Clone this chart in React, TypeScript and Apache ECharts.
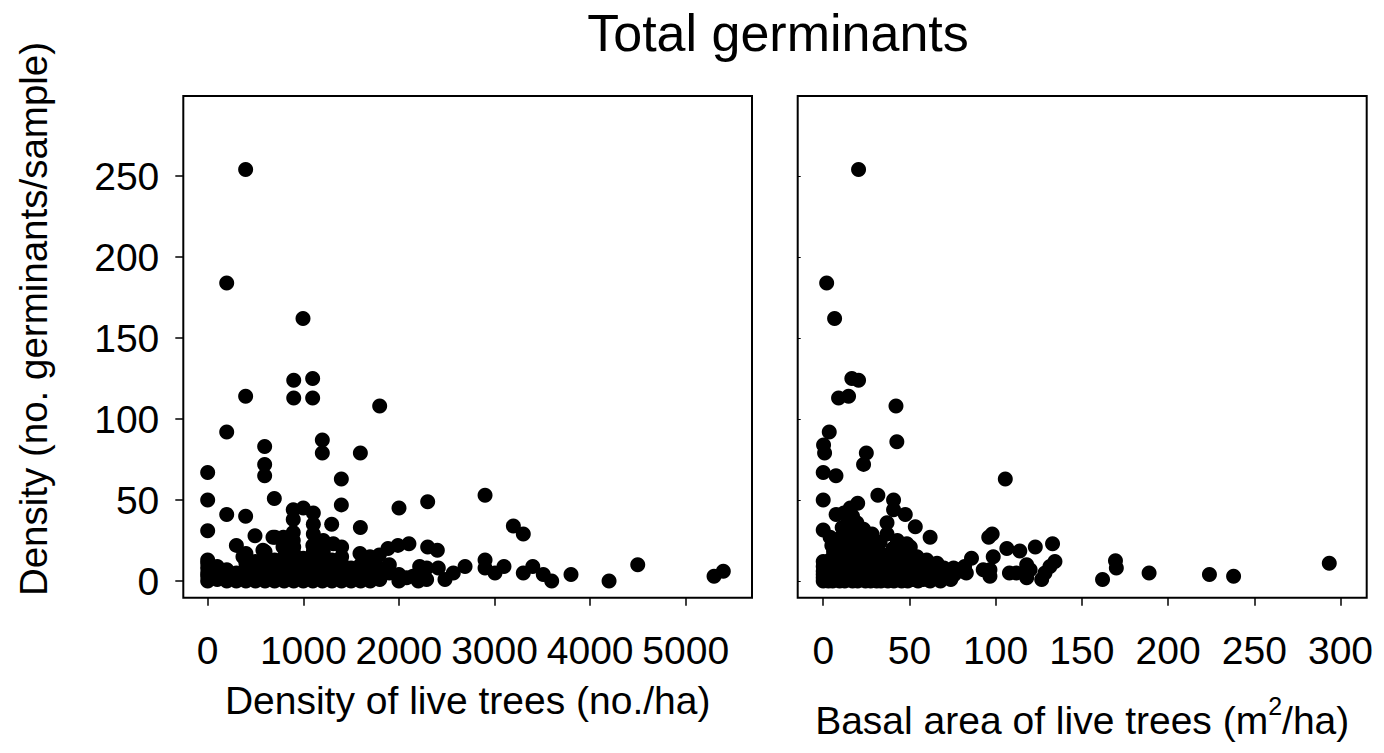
import React, { useEffect, useRef } from "react";
import * as echarts from "echarts";

const titleText = "Total germinants";
const yAxisTitle = "Density (no. germinants/sample)";
const leftXTitle = "Density of live trees (no./ha)";

const yTicks = [0, 50, 100, 150, 200, 250];
const densityTicks = [0, 1000, 2000, 3000, 4000, 5000];
const basalTicks = [0, 50, 100, 150, 200, 250, 300];

// Left panel: [density of live trees (no./ha), germinants/sample]
const densityPoints: [number, number][] = [
  [397, 254], [199, 184], [997, 162], [900, 124], [1098, 125], [900, 113], [1098, 113],
  [397, 114], [1799, 108], [199, 92], [596, 83], [596, 72], [596, 65], [1199, 87], [1199, 79],
  [1597, 79], [0, 67], [1398, 63], [0, 50], [697, 51], [199, 41], [397, 40], [1398, 47],
  [2001, 45], [0, 31], [1297, 35], [1597, 33], [895, 44], [1000, 45], [1105, 42], [895, 38],
  [1105, 35], [300, 22], [495, 28], [683, 27], [788, 21], [578, 19], [369, 15], [895, 30],
  [1105, 29], [895, 25], [791, 27], [704, 27], [1209, 25], [1314, 23], [1401, 21], [1401, 15],
  [1209, 18], [1105, 18], [600, 18], [400, 17], [1886, 20], [1990, 22], [2105, 23],
  [2301, 49], [2901, 53], [3197, 34], [3301, 29], [2301, 21], [2402, 19], [2901, 13],
  [2901, 8], [3005, 5], [3099, 9], [2692, 9], [2569, 5], [2482, 1], [2186, 3], [2290, 1],
  [3301, 5], [3400, 9], [3510, 4], [3598, 0], [3800, 4], [4198, 0], [4498, 10], [5296, 3],
  [5393, 6], [2147, 3], [2217, 9], [2081, 2], [2203, 0], [2291, 8], [2412, 8],
  [1593, 17], [1698, 15], [1795, 16], [1900, 5], [1795, 8],
  [0, 0], [0, 3], [0, 5], [0, 8], [0, 11], [0, 13],
  [100, 1], [100, 6], [100, 9],
  [200, 0], [200, 4], [200, 7],
  [300, 0], [300, 2], [300, 5],
  [400, 0], [400, 3], [400, 8], [400, 11], [400, 13],
  [500, 0], [500, 4], [500, 9], [500, 12],
  [600, 0], [600, 2], [600, 6], [600, 10], [600, 14],
  [700, 0], [700, 3], [700, 7], [700, 11], [700, 13],
  [800, 0], [800, 4], [800, 8], [800, 12], [800, 15],
  [900, 0], [900, 2], [900, 5], [900, 9], [900, 13], [900, 17], [900, 21],
  [1000, 0], [1000, 3], [1000, 7], [1000, 11], [1000, 14],
  [1100, 0], [1100, 2], [1100, 6], [1100, 10], [1100, 14], [1100, 22],
  [1200, 0], [1200, 3], [1200, 8], [1200, 12],
  [1300, 0], [1300, 5], [1300, 9], [1300, 13],
  [1400, 0], [1400, 3], [1400, 7], [1400, 11],
  [1500, 0], [1500, 4], [1500, 8],
  [1600, 0], [1600, 3], [1600, 6], [1600, 10],
  [1700, 0], [1700, 4], [1700, 8], [1700, 12],
  [1800, 1], [1800, 5],
  [1900, 10], [2000, 0], [2000, 4],
];

// Right panel: [basal area of live trees (m2/ha), germinants/sample]
const basalPoints: [number, number][] = [
  [20.5, 254], [2, 184], [6.6, 162], [16.6, 125], [20.5, 124], [8.9, 113], [14.7, 114],
  [42.2, 108], [3.5, 92], [0.2, 84], [0.8, 79], [25, 79], [23.4, 72], [42.7, 86], [0, 67],
  [7.4, 65], [105.6, 63], [0, 50], [31.7, 53], [40.8, 50], [20, 48], [15.7, 45], [7.5, 41],
  [47.6, 41], [40.8, 44], [37, 36], [37, 29], [28.3, 29], [19.5, 36], [15.7, 37], [23.4, 32],
  [0, 31.5], [4, 27], [8, 23], [53.4, 33.5], [62, 27], [50.5, 21], [44.5, 18], [48.5, 23],
  [54.4, 15], [60, 13], [66, 11], [70, 8], [75.6, 8], [81, 6],
  [96, 27], [98, 29], [106.5, 20], [114, 18.5], [123, 21], [133, 23], [134.4, 12],
  [131.5, 9], [128.6, 5], [126.7, 1], [118, 10], [120, 7], [118, 2], [108, 5], [112, 5],
  [98.6, 15], [96.7, 7], [96.7, 3], [92.8, 7], [86, 14], [82, 9], [83, 5], [162, 1],
  [169.5, 12.5], [170, 8], [189, 5], [224, 4], [238, 3], [293.5, 11],
  [10, 20], [12, 25], [13, 30], [14, 35], [17, 40], [18, 33], [20, 28], [22, 21], [24, 26],
  [26, 17], [11, 33], [9, 26], [6, 18], [5, 22], [27, 23], [30, 19], [33, 24], [35, 16],
  [12, 42],
  [0, 0], [0, 2], [0, 4], [0, 6], [0, 9], [0, 12], [1, 1], [1.5, 7], [2, 3], [2.5, 10],
  [3, 0], [3.5, 5], [4, 13], [4.5, 2], [5, 8], [5.5, 0], [6, 4], [6.5, 11], [7, 1], [7.5, 6],
  [8, 15], [8.5, 3], [9, 9], [9.5, 0], [10, 5], [10.5, 12], [11, 2], [11.5, 18], [12, 7],
  [12.5, 0], [13, 4], [13.5, 10], [14, 22], [14.5, 1], [15, 6], [15.5, 14], [16, 3],
  [16.5, 27], [17, 0], [17.5, 8], [18, 19], [18.5, 2], [19, 12], [19.5, 5], [20, 0],
  [20.5, 16], [21, 30], [21.5, 3], [22, 9], [22.5, 24], [23, 1], [23.5, 6], [24, 13],
  [24.5, 0], [25, 4], [25.5, 20], [26, 8], [26.5, 2], [27, 11], [27.5, 0], [28, 5],
  [28.5, 17], [29, 1], [29.5, 9], [30, 3], [30.5, 14], [31, 0], [31.5, 7], [32, 2], [33, 10],
  [33.5, 0], [34, 5], [35, 1], [35.5, 12], [36, 3], [37, 8], [37.5, 0], [38, 15], [38.5, 4],
  [39, 1], [40, 6], [40.5, 20], [41, 0], [42, 3], [42.5, 11], [43, 25], [43.5, 1], [44, 7],
  [45, 14], [45.5, 0], [46, 4], [47, 9], [48, 2], [48.5, 17], [49, 0], [50, 5], [51, 12],
  [52, 1], [53, 7], [54, 3], [55, 0], [56, 10], [57, 4], [58, 1], [59, 6], [60, 2], [62, 0],
  [63, 5], [64, 9], [66, 2], [67, 6], [68, 0], [70, 3], [72, 5], [74, 1], [76, 4], [78, 7],
];

const FONT = "'Liberation Sans', Arial, sans-serif";
const FS = 39;

export default function App() {
  const ref = useRef<HTMLDivElement>(null);
  useEffect(() => {
    if (!ref.current) return;
    const chart = echarts.init(ref.current, null, { renderer: "svg" });
    const tickStyle = { color: "#000", width: 1.5 };
    const labelBase = { color: "#000", fontSize: FS, fontFamily: FONT };
    const plain = (v: number) => String(v);
    chart.setOption({
      animation: false,
      backgroundColor: "#fff",
      title: {
        text: titleText,
        left: 773,
        top: 2,
        textAlign: "center",
        textStyle: { color: "#000", fontSize: 52, fontWeight: "normal", fontFamily: FONT },
      },
      grid: [
        { left: 183.3, top: 96, width: 568.7, height: 501.7, show: true, borderColor: "#000", borderWidth: 2 },
        { left: 797.7, top: 96, width: 569, height: 501.7, show: true, borderColor: "#000", borderWidth: 2 },
      ],
      xAxis: [
        {
          type: "value", gridIndex: 0, min: -255, max: 5693,
          axisLine: { show: false, onZero: false },
          axisTick: { show: true, length: 8, lineStyle: tickStyle, customValues: densityTicks },
          axisLabel: { ...labelBase, margin: 33, customValues: densityTicks, formatter: plain },
          splitLine: { show: false },
          name: leftXTitle, nameLocation: "middle", nameGap: 83,
          nameTextStyle: { ...labelBase },
        },
        {
          type: "value", gridIndex: 1, min: -14.8, max: 315.2,
          axisLine: { show: false, onZero: false },
          axisTick: { show: true, length: 8, lineStyle: tickStyle, customValues: basalTicks },
          axisLabel: { ...labelBase, margin: 33, customValues: basalTicks, formatter: plain },
          splitLine: { show: false },
          name: "{a|Basal area of live trees (m}{s|2}{a|/ha)}", nameLocation: "middle", nameGap: 96,
          nameTextStyle: {
            ...labelBase,
            rich: {
              a: { ...labelBase, lineHeight: 46, verticalAlign: "bottom" },
              s: { color: "#000", fontSize: 25, fontFamily: FONT, lineHeight: 25, verticalAlign: "top" },
            },
          },
        },
      ],
      yAxis: [
        {
          type: "value", gridIndex: 0, min: -10.3, max: 299.4,
          axisLine: { show: false, onZero: false },
          axisTick: { show: true, length: 8, lineStyle: tickStyle, customValues: yTicks },
          axisLabel: { ...labelBase, margin: 24, customValues: yTicks, formatter: plain },
          splitLine: { show: false },
        },
        {
          type: "value", gridIndex: 1, min: -10.3, max: 299.4,
          axisLine: { show: false, onZero: false },
          axisTick: { show: true, inside: true, length: 3, lineStyle: { color: "#000", width: 1 }, customValues: yTicks },
          axisLabel: { show: false },
          splitLine: { show: false },
        },
      ],
      graphic: [
        {
          type: "text",
          x: 33,
          y: 319,
          rotation: Math.PI / 2,
          style: {
            text: yAxisTitle,
            fill: "#000",
            font: `38.5px ${FONT}`,
            fontSize: 38.5,
            fontFamily: FONT,
            textAlign: "center",
            align: "center",
            textVerticalAlign: "middle",
            verticalAlign: "middle",
          },
        },
      ],
      series: [
        {
          type: "scatter", xAxisIndex: 0, yAxisIndex: 0, data: densityPoints,
          symbol: "circle", symbolSize: 15, itemStyle: { color: "#000", opacity: 1 },
        },
        {
          type: "scatter", xAxisIndex: 1, yAxisIndex: 1, data: basalPoints,
          symbol: "circle", symbolSize: 15, itemStyle: { color: "#000", opacity: 1 },
        },
      ],
    });
    return () => chart.dispose();
  }, []);
  return (
    <div
      ref={ref}
      style={{ position: "fixed", left: 0, top: 0, width: 1384, height: 753, background: "#fff" }}
    />
  );
}
